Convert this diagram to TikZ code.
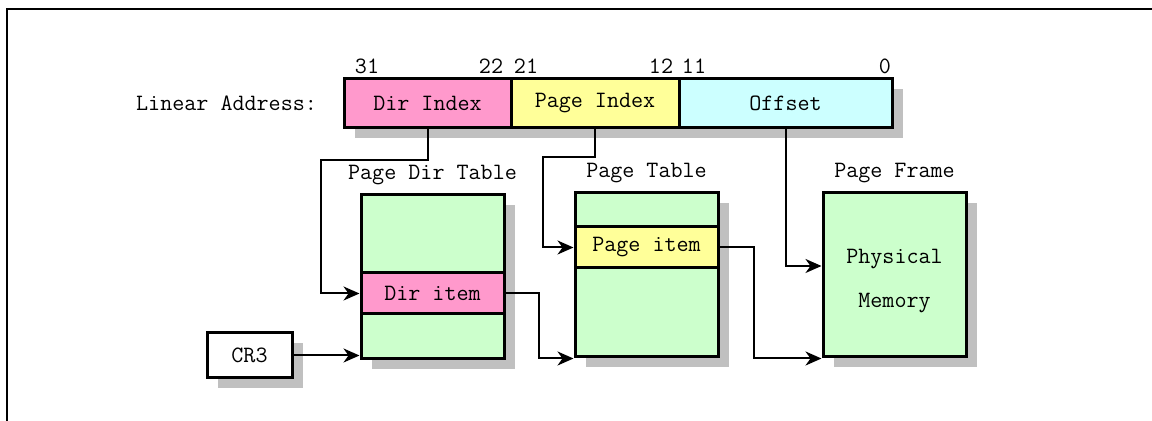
\documentclass[tikz,border=0pt]{standalone}
\usepackage{tikz}
\usetikzlibrary{
  calc,%
  positioning,%
  % grey offset shadows behind the boxes
  shadows,%
  arrows.meta
}
\definecolor{dirpink}{HTML}{FF99CC}
\definecolor{pageyellow}{HTML}{FFFF99}
\definecolor{offcyan}{HTML}{CCFFFF}
\definecolor{tblgreen}{HTML}{CCFFCC}
\definecolor{shadegray}{HTML}{C0C0C0}
\newcommand{\figfont}{\ttfamily\fontsize{11.7}{22}\selectfont}
\tikzset{>={Stealth[length=8pt, width=7pt, inset=2.5pt]}}
\tikzset{font=\figfont}
\tikzset{boxshade/.style={general shadow={fill=shadegray, shadow xshift=5.5pt, shadow yshift=-5pt}}}
\tikzset{addrfield/.style={draw, line width=1.5pt, minimum height=24.5pt, inner sep=0pt,
    outer sep=0pt, boxshade}}
\tikzset{tbl/.style={draw, line width=1.5pt, fill=tblgreen, minimum width=71.5pt,
    minimum height=82pt, inner sep=0pt, boxshade}}
\tikzset{tblitem/.style={draw, line width=1.5pt, minimum width=71.5pt, minimum height=20.5pt, inner sep=0pt}}
\tikzset{regbox/.style={draw, line width=1.5pt, fill=white, minimum width=42.5pt,
    minimum height=22.5pt, inner sep=0pt, boxshade}}
\tikzset{conn/.style={line width=1pt, ->}}

\begin{document}
\begin{tikzpicture}[x=0.5pt, y=-0.5pt]
  \useasboundingbox (0, 0) rectangle (1152, 421); %
  \draw[line width=1.3pt] (7, 421) |- (1152, 9); %
  % linear address
  \node[addrfield, fill=dirpink, minimum width=83.5pt] (dirindex) at (427.5, 103.5) {Dir Index}; %
  \node[addrfield, fill=pageyellow, minimum width=84pt, right=0pt of dirindex] (pageindex) {Page Index}; %
  \node[addrfield, fill=offcyan, minimum width=106.5pt, right=0pt of pageindex] (offset) {Offset}; %
  \node[left=10pt of dirindex] (linaddr) {Linear Address:}; %
  \node (b31) at ($(dirindex.north west)+(23, -13)$) {31}; %
  \node (b22) at ($(dirindex.north east)+(-20, -13)$) {22}; %
  \node (b21) at ($(pageindex.north west)+(15, -13)$) {21}; %
  \node (b12) at ($(pageindex.north east)+(-18, -13)$) {12}; %
  \node (b11) at ($(offset.north west)+(15, -13)$) {11}; %
  \node (b0) at ($(offset.north east)+(-7, -13)$) {0}; %
  % tables
  \node[tbl] (pdtable) at (432.5, 277) {}; %
  \node[tblitem, fill=dirpink] (diritem) at (432.5, 293.5) {Dir item}; %
  \node[tbl] (ptable) at (646.5, 275) {}; %
  \node[tblitem, fill=pageyellow] (pageitem) at (646.5, 247.5) {Page item}; %
  \node[tbl] (pframe) at (894.5, 275) {}; %
  \node[align=center] (pfmem) at ($(pframe.center)+(0, 6)$) {Physical\\Memory}; %
  \node[above=1pt of pdtable] (pdtname) {Page Dir Table}; %
  \node[above=1pt of ptable] (ptname) {Page Table}; %
  \node[above=1pt of pframe] (pfname) {Page Frame}; %
  \node[regbox] (cr3) at (249.5, 355.5) {CR3}; %
  % connectors
  \draw[conn] (dirindex.south) -- ++(0, 32) -| ($(diritem.west)+(-39, 0)$) -- (diritem.west); %
  \draw[conn] (pageindex.south) -- ++(0, 29) -| ($(pageitem.west)+(-31, 0)$) -- (pageitem.west); %
  \draw[conn] (offset.south) |- ($(pframe.west)+(0, -9)$); %
  \draw[conn] (diritem.east) -- ++(33, 0) |- (ptable.south west); %
  \draw[conn] (pageitem.east) -- ++(34, 0) |- (pframe.south west); %
  \draw[conn] (cr3.east) -- (cr3.east -| pdtable.west); %
\end{tikzpicture}
\end{document}
